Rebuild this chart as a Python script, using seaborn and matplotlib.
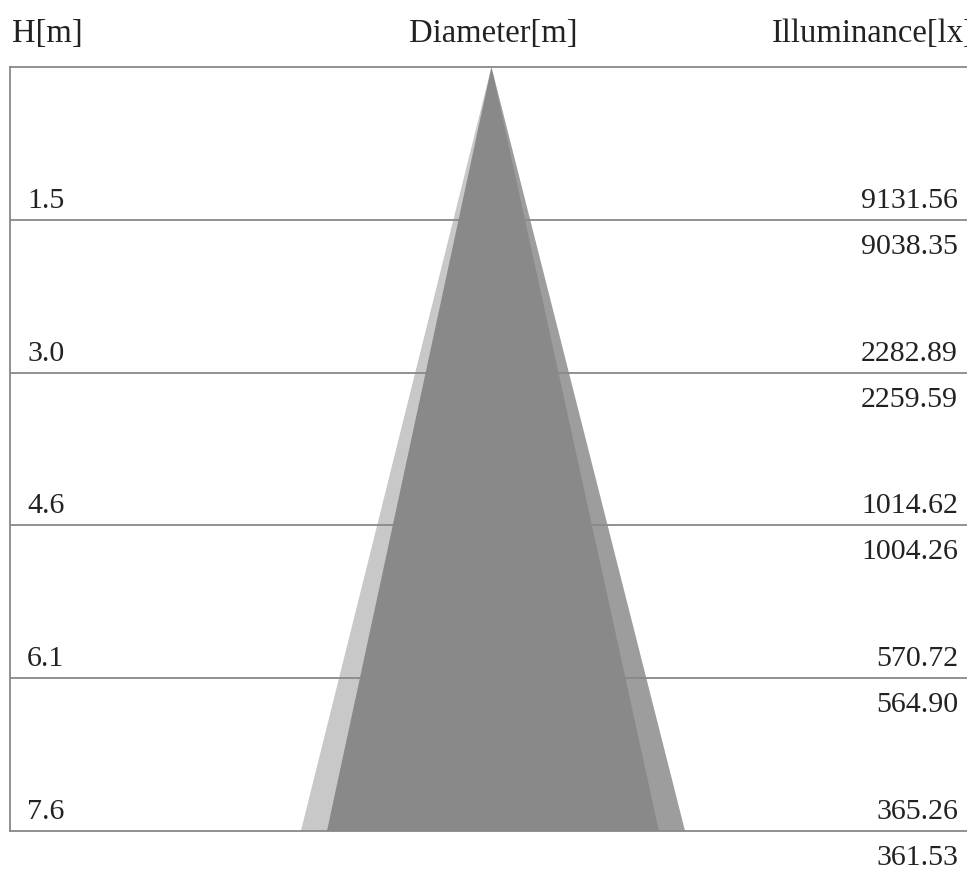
import matplotlib
matplotlib.use("Agg")
import matplotlib.pyplot as plt
import seaborn as sns

# mounting heights (labels) and their real value in metres (5 ft steps)
height_labels = ["1.5", "3.0", "4.6", "6.1", "7.6"]
heights = [1.524, 3.048, 4.572, 6.096, 7.62]
# illuminance in the two planes
lux_plane1 = ["9131.56", "2282.89", "1014.62", "570.72", "365.26"]
lux_plane2 = ["9038.35", "2259.59", "1004.26", "564.90", "361.53"]
# beam edges at the lowest height, left/right of the apex [m]
beam_left = [-1.90, -1.64]
beam_right = [1.67, 1.93]
beam_colors = ["#c8c8c8", "#666666"]
beam_alpha = [1.0, 0.64]

sns.set_style("white")
plt.rcParams['font.family'] = ['Liberation Serif', 'DejaVu Serif']

W, H = 967, 873
fig = plt.figure(figsize=(W / 100, H / 100), dpi=100)
# axes run past the right edge of the picture, as in the reference
ax = fig.add_axes([10 / W, (H - 831) / H, 990 / W, 764 / H])
ax.set_xlim(-4.8, 5.07)
ax.set_ylim(heights[-1], 0)

for l, r, c, a in zip(beam_left, beam_right, beam_colors, beam_alpha):
    ax.fill([0, l, r], [0, heights[-1], heights[-1]], color=c, alpha=a, lw=0, zorder=1)

for h in heights[:-1]:
    ax.axhline(h, color="#888888", lw=1.3, zorder=2)

for s in ["top", "bottom", "left"]:
    ax.spines[s].set_color("#888888")
    ax.spines[s].set_linewidth(1.3)
ax.spines["right"].set_visible(False)
ax.set_xticks([])
ax.set_yticks([])

fs = 21.5
for lab, h, p1, p2 in zip(height_labels, heights, lux_plane1, lux_plane2):
    ax.annotate(lab, xy=(27 / W, h), xycoords=("figure fraction", "data"),
                xytext=(0, 12), textcoords="offset pixels", ha="left", va="baseline",
                fontsize=fs, color="#222222", annotation_clip=False)
    ax.annotate(p1, xy=(958 / W, h), xycoords=("figure fraction", "data"),
                xytext=(0, 12), textcoords="offset pixels", ha="right", va="baseline",
                fontsize=fs, color="#222222", annotation_clip=False)
    ax.annotate(p2, xy=(958 / W, h), xycoords=("figure fraction", "data"),
                xytext=(0, -14), textcoords="offset pixels", ha="right", va="top",
                fontsize=fs, color="#222222", annotation_clip=False)

hfs = 23.5
fig.text(12 / W, 1 - 42 / H, "H[m]", ha="left", va="baseline", fontsize=hfs, color="#222222")
fig.text(493 / W, 1 - 42 / H, "Diameter[m]", ha="center", va="baseline", fontsize=hfs, color="#222222")
fig.text(772 / W, 1 - 42 / H, "Illuminance[lx]", ha="left", va="baseline", fontsize=hfs, color="#222222")

fig.savefig("out.png", dpi=100)
